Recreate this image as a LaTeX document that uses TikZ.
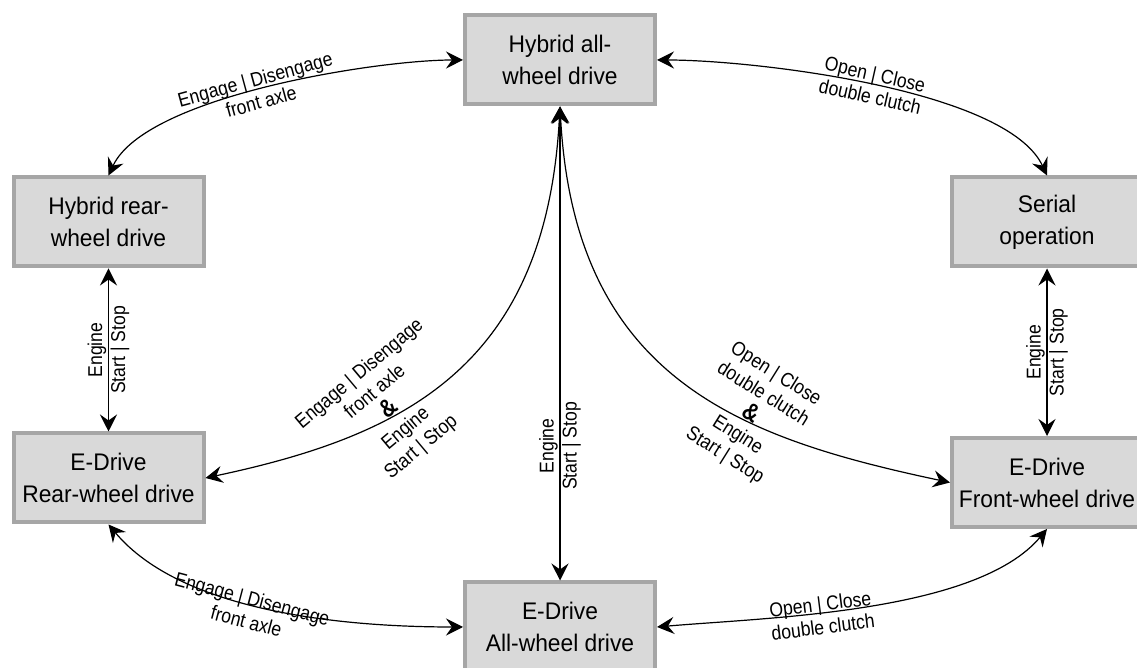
\documentclass[tikz,border=0pt]{standalone}
\usepackage{fontspec}
\setmainfont[FakeStretch=0.95]{Liberation Sans}
\newfontfamily\narrowsans[FakeStretch=0.88]{Liberation Sans}
\definecolor{modefill}{RGB}{217,217,217}
\definecolor{modeline}{RGB}{166,166,166}
\usetikzlibrary{arrows.meta}
\newcommand{\bigamp}{{\fontsize{25}{24}\selectfont\bfseries\&}}

\begin{document}
\begin{tikzpicture}[x=1pt, y=1pt,
  mbox/.style={rectangle, draw=modeline, line width=4pt, fill=modefill,
               minimum width=190pt, minimum height=89pt, inner sep=2pt,
               align=center, font=\fontsize{24}{32}\selectfont},
  marr/.style={{Stealth[length=17pt,width=17pt,inset=6pt]}-{Stealth[length=17pt,width=17pt,inset=6pt]},
               line width=1.2pt},
  elbl/.style={font=\narrowsans\fontsize{20}{23}\selectfont, align=center, inner sep=1pt},
  clbl/.style={elbl, font=\narrowsans\fontsize{20}{24}\selectfont}
]
\useasboundingbox (0,0) rectangle (1137,668);

% Operating modes
\node[mbox] (hawd) at (560,608)    {Hybrid all-\\wheel drive};
\node[mbox] (hrwd) at (108.5,446)  {Hybrid rear-\\wheel drive};
\node[mbox] (ser)  at (1047,446)   {Serial\\operation};
\node[mbox] (erwd) at (108.5,190)  {E-Drive\\Rear-wheel drive};
\node[mbox] (efwd) at (1047,185.5) {E-Drive\\Front-wheel drive};
\node[mbox] (eawd) at (560,41)     {E-Drive\\All-wheel drive};

% Upper transitions
\draw[marr] (hrwd.north) to[out=65,in=180,looseness=0.6]
  node[elbl, sloped, pos=0.48] (t1) {Engage | Disengage\\front axle} (hawd.west);
\draw[marr] (hawd.east) to[out=0,in=115,looseness=0.6]
  node[elbl, sloped, pos=0.5] (t2) {Open | Close\\double clutch} (ser.north);

% Engine start/stop
\draw[marr] (erwd.north) -- node[elbl, sloped] (t3) {Engine\\Start | Stop} (hrwd.south);
\draw[marr] (efwd.north) -- node[elbl, sloped] (t4) {Engine\\Start | Stop} (ser.south);
\draw[marr] (eawd.north) -- node[elbl, sloped, pos=0.284] (t5) {Engine\\Start | Stop} (hawd.south);

% Combined transitions
\draw[marr] (erwd.east) to[out=12,in=-93,out looseness=1,in looseness=1.3]
  node[clbl, pos=0.37, rotate=40, xshift=-5pt, yshift=6pt] (t6)
  {Engage | Disengage\\front axle\\\bigamp\\Engine\\Start | Stop} (hawd.south);
\draw[marr] (efwd.west) to[out=168,in=-87,out looseness=1,in looseness=1.3]
  node[clbl, pos=0.36, rotate=-32, yshift=6pt] (t7)
  {Open | Close\\double clutch\\\bigamp\\Engine\\Start | Stop} (hawd.south);

% Lower transitions
\draw[marr] (erwd.south) to[out=-50,in=180,looseness=0.8]
  node[elbl, sloped, pos=0.45, yshift=-6pt] (t8) {Engage | Disengage\\front axle} (eawd.west);
\draw[marr] (eawd.east) to[out=5,in=-130,looseness=0.7]
  node[elbl, sloped, pos=0.4, yshift=-3pt] (t9) {Open | Close\\double clutch} (efwd.south);
\end{tikzpicture}
\end{document}
